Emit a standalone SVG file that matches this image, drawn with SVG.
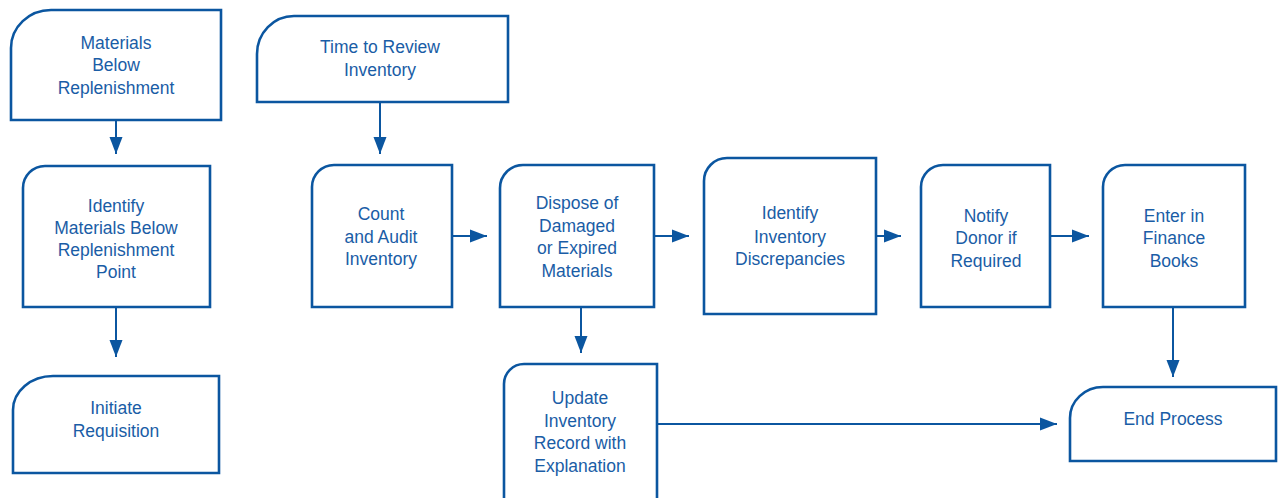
<svg xmlns="http://www.w3.org/2000/svg" width="1279" height="498" viewBox="0 0 1279 498">
  <style>
    .box { fill: #ffffff; stroke: #0b56a0; stroke-width: 2.6; }
    .lbl { font-family: "Liberation Sans", Arial, sans-serif; font-size: 17.5px; fill: #1a5da6; text-anchor: middle; }
    .conn { stroke: #0b56a0; stroke-width: 2; fill: none; marker-end: url(#arrow); }
  </style>
  <defs>
    <marker id="arrow" markerUnits="userSpaceOnUse" markerWidth="18" markerHeight="14" refX="17" refY="7" orient="auto">
      <path d="M0,0.5 L17,7 L0,13.5 Z" fill="#0b56a0"/>
    </marker>
  </defs>

  <rect width="1279" height="498" fill="#ffffff"/>

  <!-- connectors -->
  <g id="connectors">
    <line class="conn" x1="116" y1="121" x2="116" y2="154"/>
    <line class="conn" x1="116" y1="307" x2="116" y2="357"/>
    <line class="conn" x1="380" y1="102" x2="380" y2="154"/>
    <line class="conn" x1="452" y1="236" x2="487" y2="236"/>
    <line class="conn" x1="654" y1="236" x2="689" y2="236"/>
    <line class="conn" x1="876" y1="236" x2="901" y2="236"/>
    <line class="conn" x1="1050" y1="236" x2="1089" y2="236"/>
    <line class="conn" x1="581" y1="307" x2="581" y2="353"/>
    <line class="conn" x1="1173" y1="307" x2="1173" y2="377"/>
    <line class="conn" x1="657" y1="424" x2="1057" y2="424"/>
  </g>

  <!-- left column -->
  <g id="materials-below">
    <path class="box" d="M11,48 L11,120 L221,120 L221,10 L51,10 A40,38 0 0 0 11,48 Z"/>
    <text class="lbl" x="116" y="49">Materials</text>
    <text class="lbl" x="116" y="71">Below</text>
    <text class="lbl" x="116" y="94">Replenishment</text>
  </g>

  <g id="identify-materials">
    <path class="box" d="M23,188 L23,307 L210,307 L210,166 L45,166 A22,22 0 0 0 23,188 Z"/>
    <text class="lbl" x="116" y="212">Identify</text>
    <text class="lbl" x="116" y="234">Materials Below</text>
    <text class="lbl" x="116" y="256">Replenishment</text>
    <text class="lbl" x="116" y="278">Point</text>
  </g>

  <g id="initiate-requisition">
    <path class="box" d="M13,410 L13,473 L219,473 L219,376 L53,376 A40,34 0 0 0 13,410 Z"/>
    <text class="lbl" x="116" y="414">Initiate</text>
    <text class="lbl" x="116" y="437">Requisition</text>
  </g>

  <!-- review chain -->
  <g id="time-to-review">
    <path class="box" d="M257,54 L257,102 L508,102 L508,16 L294,16 A37,38 0 0 0 257,54 Z"/>
    <text class="lbl" x="380" y="53">Time to Review</text>
    <text class="lbl" x="380" y="76">Inventory</text>
  </g>

  <g id="count-audit">
    <path class="box" d="M312,187 L312,307 L452,307 L452,165 L334,165 A22,22 0 0 0 312,187 Z"/>
    <text class="lbl" x="381" y="220">Count</text>
    <text class="lbl" x="381" y="243">and Audit</text>
    <text class="lbl" x="381" y="265">Inventory</text>
  </g>

  <g id="dispose">
    <path class="box" d="M500,188 L500,307 L654,307 L654,165 L523,165 A23,23 0 0 0 500,188 Z"/>
    <text class="lbl" x="577" y="209">Dispose of</text>
    <text class="lbl" x="577" y="232">Damaged</text>
    <text class="lbl" x="577" y="254">or Expired</text>
    <text class="lbl" x="577" y="277">Materials</text>
  </g>

  <g id="identify-discrepancies">
    <path class="box" d="M704,181 L704,314 L876,314 L876,158 L727,158 A23,23 0 0 0 704,181 Z"/>
    <text class="lbl" x="790" y="219">Identify</text>
    <text class="lbl" x="790" y="243">Inventory</text>
    <text class="lbl" x="790" y="265">Discrepancies</text>
  </g>

  <g id="notify-donor">
    <path class="box" d="M921,187 L921,307 L1050,307 L1050,165 L943,165 A22,22 0 0 0 921,187 Z"/>
    <text class="lbl" x="986" y="222">Notify</text>
    <text class="lbl" x="986" y="244">Donor if</text>
    <text class="lbl" x="986" y="267">Required</text>
  </g>

  <g id="enter-finance">
    <path class="box" d="M1103,187 L1103,307 L1245,307 L1245,165 L1125,165 A22,22 0 0 0 1103,187 Z"/>
    <text class="lbl" x="1174" y="222">Enter in</text>
    <text class="lbl" x="1174" y="244">Finance</text>
    <text class="lbl" x="1174" y="267">Books</text>
  </g>

  <g id="update-record">
    <path class="box" d="M504,384 L504,500 L657,500 L657,364 L524,364 A20,20 0 0 0 504,384 Z"/>
    <text class="lbl" x="580" y="404">Update</text>
    <text class="lbl" x="580" y="427">Inventory</text>
    <text class="lbl" x="580" y="449">Record with</text>
    <text class="lbl" x="580" y="472">Explanation</text>
  </g>

  <g id="end-process">
    <path class="box" d="M1070,418 L1070,461 L1276,461 L1276,387 L1103,387 A33,31 0 0 0 1070,418 Z"/>
    <text class="lbl" x="1173" y="425">End Process</text>
  </g>
</svg>
